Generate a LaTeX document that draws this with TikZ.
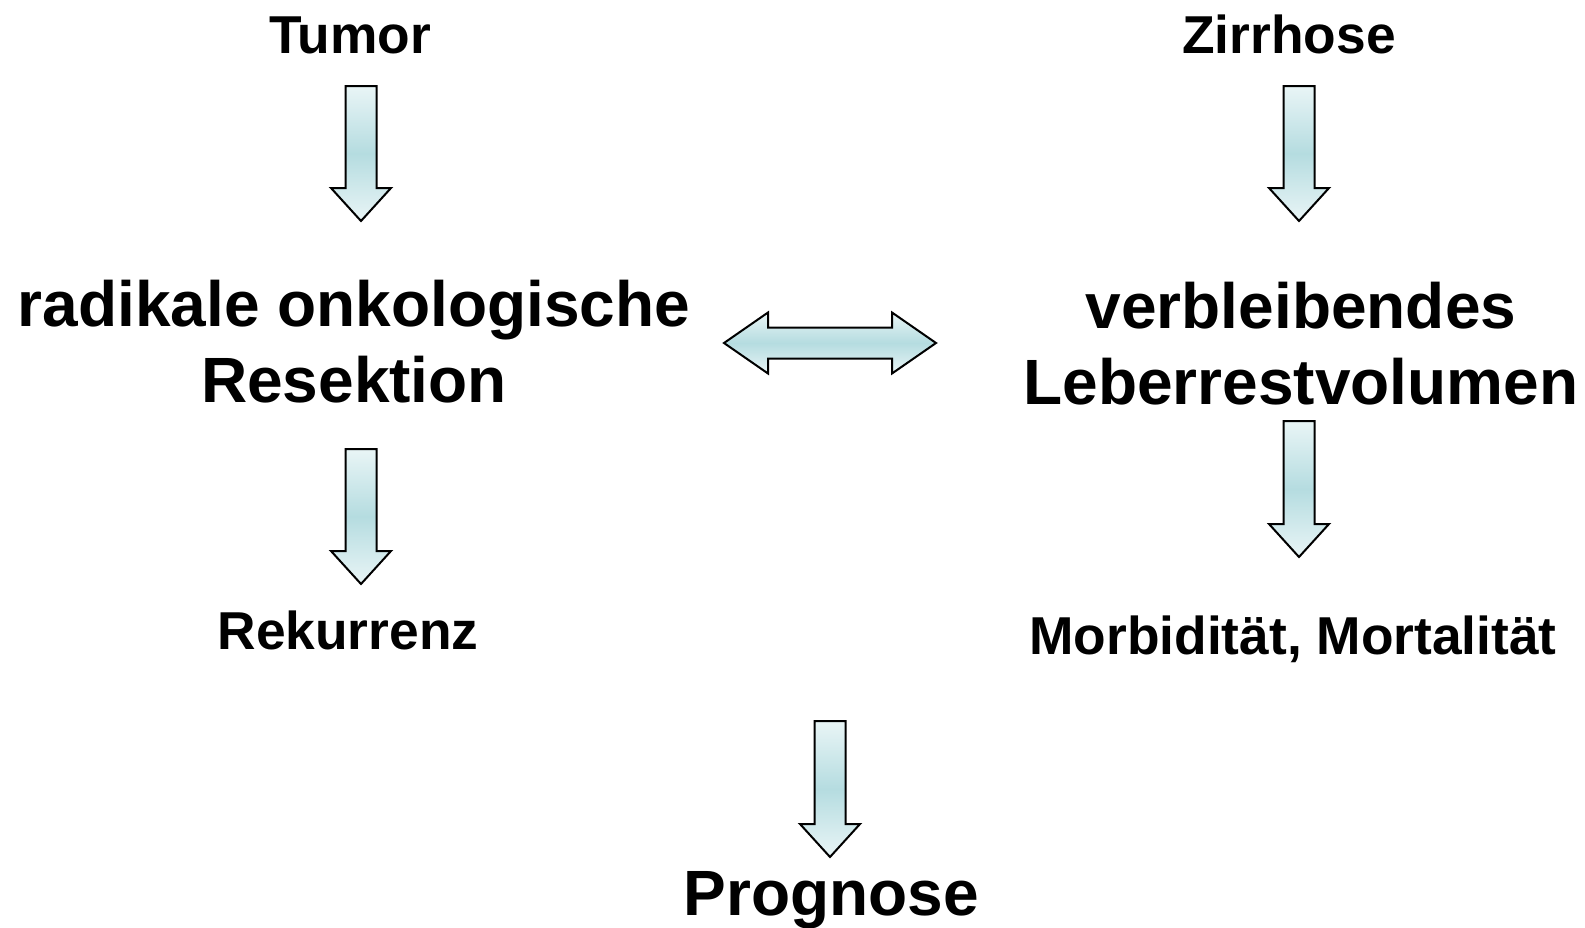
\documentclass[tikz,border=0pt]{standalone}
\usepackage{fontspec}
\setmainfont{Liberation Sans}
\usetikzlibrary{positioning,calc}
\definecolor{arrlight}{RGB}{233,245,246}
\definecolor{arrmid}{RGB}{181,220,224}

% fat down arrow from top centre #1 to tip #2
\newcommand{\downarr}[2]{%
  \path[blockarr] ($(#1)+(-15.5,0)$) -- ($(#1)+(15.5,0)$) -- ($(#2)+(15.5,-33)$)
    -- ($(#2)+(30,-33)$) -- (#2) -- ($(#2)+(-30,-33)$) -- ($(#2)+(-15.5,-33)$) -- cycle;}

\begin{document}
\begin{tikzpicture}[x=0.75pt,y=-0.75pt]

\tikzstyle{basenode}=[inner sep=0pt, anchor=base, align=center];
\tikzstyle{big}=[basenode, font=\fontsize{48}{57}\selectfont\bfseries];
\tikzstyle{small}=[basenode, font=\fontsize{40}{48}\selectfont\bfseries];
\tikzstyle{blockarr}=[draw=black, line width=1.5pt, miter limit=4, top color=arrlight, bottom color=arrlight, middle color=arrmid];

\useasboundingbox (0,0) rectangle (1585,928);

\node[small] (tumor) at (350,53) {Tumor};
\node[small] (zirr) at (1289,53) {Zirrhose};
% two-line labels sit on the baseline of their last line
\node[big] (resek) at (354,402) {radikale onkologische\\Resektion};
\node[big] (volumen) at (1301,404) {verbleibendes\\Leberrestvolumen};
\node[small] (rekur) at (348,649) {Rekurrenz};
\node[small] (morb) at (1293,654) {Morbidit\"at, Mortalit\"at};
\node[big] (progn) at (831,915) {Prognose};

% arrow ends
\coordinate (t1) at (361,86);   \coordinate (e1) at (361,221);
\coordinate (t2) at (361,449);  \coordinate (e2) at (361,584);
\coordinate (t3) at (1299,86);  \coordinate (e3) at (1299,221);
\coordinate (t4) at (1299,421); \coordinate (e4) at (1299,557);
\coordinate (t5) at (830,721);  \coordinate (e5) at (830,857);
\coordinate (lt) at (724,343);  \coordinate (rt) at (936,343);

\downarr{t1}{e1}
\downarr{t2}{e2}
\downarr{t3}{e3}
\downarr{t4}{e4}
\downarr{t5}{e5}

% double arrow between resection and remnant volume
\path[blockarr] (lt) -- ($(lt)+(44,-30.5)$) -- ($(lt)+(44,-15.5)$) -- ($(rt)+(-44,-15.5)$)
  -- ($(rt)+(-44,-30.5)$) -- (rt) -- ($(rt)+(-44,30.5)$) -- ($(rt)+(-44,15.5)$)
  -- ($(lt)+(44,15.5)$) -- ($(lt)+(44,30.5)$) -- cycle;

\end{tikzpicture}
\end{document}
